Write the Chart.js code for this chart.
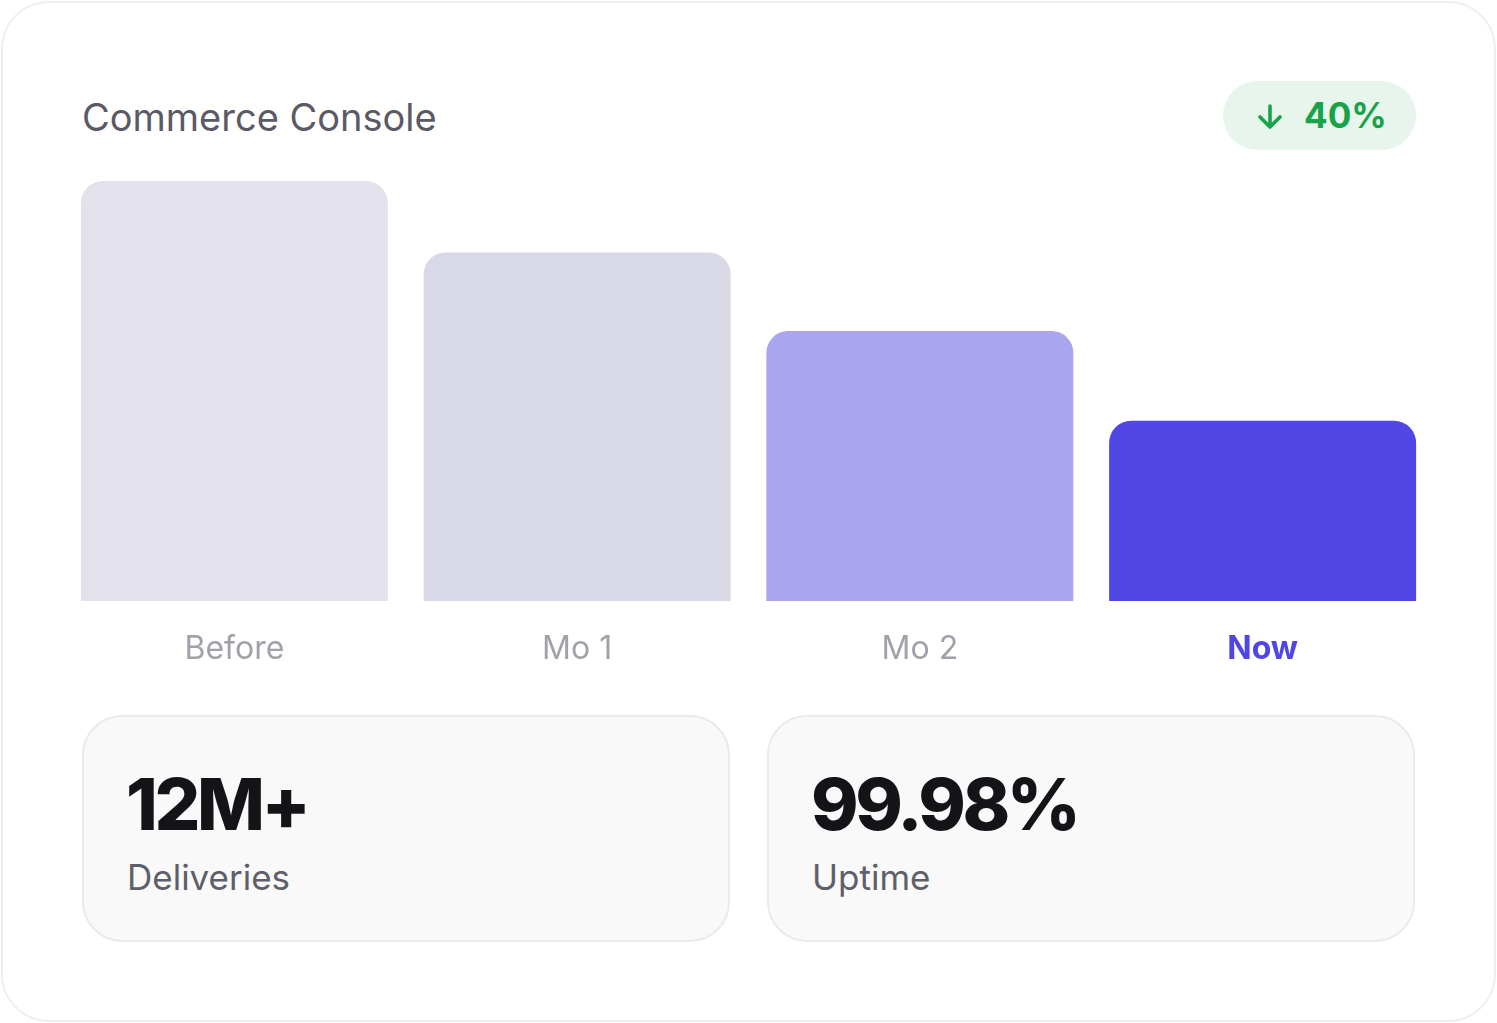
<!DOCTYPE html>
<html>
<head>
<meta charset="utf-8">
<script src="https://cdn.jsdelivr.net/npm/chart.js@4/dist/chart.umd.min.js"></script>
<style>
  html, body { margin: 0; padding: 0; background: #fff; }
  body { width: 1497px; height: 1023px; position: relative; overflow: hidden; font-family: Inter, "Noto Sans", sans-serif; }
  .card { position: absolute; left: 1px; top: 1px; width: 1491px; height: 1017px; border: 2px solid #efefef; border-radius: 48px; background: #fff; }
  .title { position: absolute; left: 82px; top: 94px; font-size: 38px; line-height: 46px; color: #5a5a64; letter-spacing: 0px; }
  .badge { position: absolute; left: 1223px; top: 81px; width: 193px; height: 69px; border-radius: 35px; background: #e8f5ec; color: #17a34a; font-weight: 700; font-size: 35px; line-height: 69px; text-align: center; }
  .badge svg { vertical-align: -3px; margin-right: 20px; margin-left: 4px; }
  #chart-div { position: absolute; left: 63px; top: 171px; width: 1371px; height: 510px; }
  .stat { position: absolute; top: 715px; width: 644px; height: 223px; border: 2px solid #ebebe6; border-radius: 40px; background: #f9f9f9; }
  .stat .value { position: absolute; left: 42px; top: 51px; font-size: 72px; line-height: 72px; font-weight: 800; color: #141418; letter-spacing: -3.4px; }
  .stat .label { position: absolute; left: 43px; top: 140px; font-size: 35px; line-height: 40px; color: #5f5f69; }
</style>
</head>
<body>
<div class="card"></div>
<div class="title">Commerce Console</div>
<div class="badge"><svg width="28" height="28" viewBox="0 0 28 28"><path d="M14 3 V24 M4 14 L14 24 L24 14" fill="none" stroke="#17a34a" stroke-width="3.6" stroke-linecap="round" stroke-linejoin="round"/></svg>40%</div>
<div id="chart-div"><canvas id="chart"></canvas></div>
<div class="stat" style="left:82px"><div class="value">12M+</div><div class="label">Deliveries</div></div>
<div class="stat" style="left:767px"><div class="value">99.98%</div><div class="label">Uptime</div></div>
<script>
const labels = ['Before', 'Mo 1', 'Mo 2', 'Now'];
const values = [100, 83, 64.3, 42.9];
const barColors = ['#e3e1ec', '#d9d8e7', '#a9a5ef', '#5047e5'];
const labelColors = ['#a1a1aa', '#a1a1aa', '#a1a1aa', '#4f46e5'];

const config = {
    type: 'bar',
    data: {
        labels: labels,
        datasets: [{
            data: values,
            backgroundColor: barColors,
            borderRadius: { topLeft: 22, topRight: 22, bottomLeft: 0, bottomRight: 0 },
            borderSkipped: false,
            categoryPercentage: 1,
            barPercentage: 307 / 342.75
        }]
    },
    options: {
        responsive: true,
        maintainAspectRatio: false,
        animation: false,
        layout: { padding: { top: 10, left: 0, right: 0, bottom: 0 } },
        plugins: {
            legend: { display: false },
            tooltip: { enabled: false }
        },
        scales: {
            y: {
                display: false,
                min: 0,
                max: 100
            },
            x: {
                grid: { display: false, drawTicks: false },
                border: { display: false },
                afterFit: function(scale) { scale.height = 80; },
                ticks: {
                    padding: 29,
                    color: function(ctx) { return labelColors[ctx.index]; },
                    font: function(ctx) {
                        return {
                            family: 'Inter',
                            size: 32,
                            weight: ctx.index === 3 ? '700' : '400'
                        };
                    }
                }
            }
        }
    }
};

new Chart(document.getElementById('chart'), config);
</script>
</body>
</html>
